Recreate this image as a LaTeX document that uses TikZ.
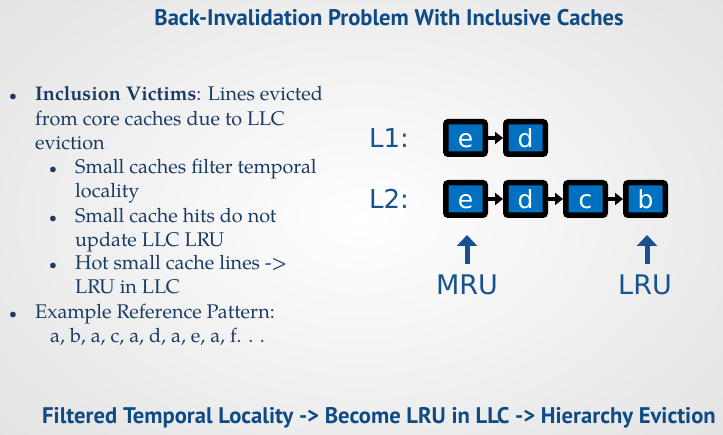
\documentclass[tikz,border=0pt]{standalone}
\usepackage{fontspec}
\setmainfont{TeX Gyre Pagella}
\newfontfamily\titlefont{PT Sans}
\newfontfamily\vfont{DejaVu Sans}
\usetikzlibrary{arrows.meta}
\definecolor{titleblue}{RGB}{14,74,132}
\definecolor{textblue}{RGB}{25,58,100}
\definecolor{labelblue}{RGB}{24,82,142}
\definecolor{boxblue}{RGB}{0,112,192}
\definecolor{bggray}{RGB}{226,226,226}
\tikzset{
  cachebox/.style={draw=black, fill=boxblue, line width=5.5pt, rounded corners=2.5pt,
    minimum width=39.5pt, minimum height=32.5pt, inner sep=0pt,
    text height=20pt, text depth=0pt,
    text=white, font=\vfont\fontsize{25}{25}\selectfont},
  chainarrow/.style={draw=black, line width=3.5pt, -{Triangle[length=8pt,width=12pt]}},
  uparrow/.style={draw=labelblue, line width=5pt, -{Triangle[length=11pt,width=20pt]}},
  lvl/.style={text=labelblue, font=\vfont\fontsize{26}{26}\selectfont, inner sep=0pt},
  body/.style={anchor=base west, text=textblue, inner sep=0pt, font=\fontsize{19.8}{22}\selectfont},
  bul/.style={anchor=base, text=textblue, inner sep=0pt, font=\fontsize{14}{18}\selectfont},
  heading/.style={text=titleblue, inner sep=0pt, font=\titlefont\bfseries\fontsize{22.6}{24}\selectfont}
}
\begin{document}
\begin{tikzpicture}[x=1pt,y=-1pt]
\useasboundingbox (0,0) rectangle (723,435);
\shade[inner color=white, outer color=bggray] (-150,-120) rectangle (873,555);

% title
\node[heading] (title) at (389,18) {Back-Invalidation Problem With Inclusive Caches};

% left text
\node[bul] (b1) at (13,101) {\textbullet};
\node[body] (t1) at (35,101) {\textbf{Inclusion Victims}: Lines evicted};
\node[body] (t2) at (35,125.5) {from core caches due to LLC};
\node[body] (t3) at (35,150) {eviction};
\node[bul] (b2) at (53,174) {\textbullet};
\node[body] (t4) at (75,174) {Small caches filter temporal};
\node[body] (t5) at (75,198) {locality};
\node[bul] (b3) at (53,222.5) {\textbullet};
\node[body] (t6) at (75,222.5) {Small cache hits do not};
\node[body] (t7) at (75,246.5) {update LLC LRU};
\node[bul] (b4) at (53,270) {\textbullet};
\node[body] (t8) at (75,270) {Hot small cache lines ->};
\node[body] (t9) at (75,294) {LRU in LLC};
\node[bul] (b5) at (13,318.5) {\textbullet};
\node[body] (t10) at (35,318.5) {Example Reference Pattern:};
\node[body] (t11) at (50,342.5) {a, b, a, c, a, d, a, e, a, f. . .};

% levels
\node[lvl] (L1) at (389,138) {L1:};
\node[lvl] (L2) at (389,199) {L2:};

\node[cachebox] (e1) at (465.5,138) {e};
\node[cachebox] (d1) at (525.5,138) {d};
\draw[chainarrow] (e1) -- (d1);

\node[cachebox] (e2) at (465.5,199) {e};
\node[cachebox] (d2) at (525.5,199) {d};
\node[cachebox] (c2) at (585.5,199) {c};
\node[cachebox] (b2x) at (645.5,199) {b};
\draw[chainarrow] (e2) -- (d2);
\draw[chainarrow] (d2) -- (c2);
\draw[chainarrow] (c2) -- (b2x);

% MRU / LRU
\coordinate (m1) at (467,264);
\coordinate (m2) at (467,235);
\coordinate (l1) at (647,264);
\coordinate (l2) at (647,235);
\draw[uparrow] (m1) -- (m2);
\draw[uparrow] (l1) -- (l2);
\node[lvl, font=\vfont\fontsize{27}{27}\selectfont] (mru) at (467,285) {MRU};
\node[lvl, font=\vfont\fontsize{27}{27}\selectfont] (lru) at (645,285) {LRU};

% bottom line
\node[heading] (bottom) at (379,418) {Filtered Temporal Locality -> Become LRU in LLC -> Hierarchy Eviction};
\end{tikzpicture}
\end{document}
